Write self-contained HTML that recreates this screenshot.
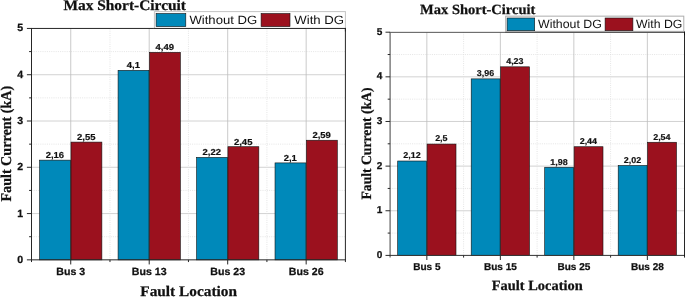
<!DOCTYPE html>
<html><head><meta charset="utf-8"><title>Max Short-Circuit</title>
<style>html,body{margin:0;padding:0;background:#fff;}svg{display:block;text-rendering:geometricPrecision;will-change:transform;}</style>
</head><body>
<svg width="685" height="297" viewBox="0 0 685 297">
<rect width="685" height="297" fill="#fff"/>
<g>
<line x1="31.5" x2="345.4" y1="213.57" y2="213.57" stroke="#cdcdcd" stroke-width="0.9"/>
<line x1="31.5" x2="345.4" y1="167.29" y2="167.29" stroke="#cdcdcd" stroke-width="0.9"/>
<line x1="31.5" x2="345.4" y1="121.01" y2="121.01" stroke="#cdcdcd" stroke-width="0.9"/>
<line x1="31.5" x2="345.4" y1="74.73" y2="74.73" stroke="#cdcdcd" stroke-width="0.9"/>
<line x1="31.5" x2="345.4" y1="236.71" y2="236.71" stroke="#dedede" stroke-width="0.8" stroke-dasharray="1 1.2"/>
<line x1="31.5" x2="345.4" y1="190.43" y2="190.43" stroke="#dedede" stroke-width="0.8" stroke-dasharray="1 1.2"/>
<line x1="31.5" x2="345.4" y1="144.15" y2="144.15" stroke="#dedede" stroke-width="0.8" stroke-dasharray="1 1.2"/>
<line x1="31.5" x2="345.4" y1="97.87" y2="97.87" stroke="#dedede" stroke-width="0.8" stroke-dasharray="1 1.2"/>
<line x1="31.5" x2="345.4" y1="51.59" y2="51.59" stroke="#dedede" stroke-width="0.8" stroke-dasharray="1 1.2"/>
<line x1="70.74" x2="70.74" y1="28.45" y2="259.85" stroke="#bdbdbd" stroke-width="0.8"/>
<line x1="149.21" x2="149.21" y1="28.45" y2="259.85" stroke="#bdbdbd" stroke-width="0.8"/>
<line x1="227.69" x2="227.69" y1="28.45" y2="259.85" stroke="#bdbdbd" stroke-width="0.8"/>
<line x1="306.16" x2="306.16" y1="28.45" y2="259.85" stroke="#bdbdbd" stroke-width="0.8"/>
<line x1="109.97" x2="109.97" y1="28.45" y2="259.85" stroke="#dedede" stroke-width="0.8" stroke-dasharray="1 1.2"/>
<line x1="188.45" x2="188.45" y1="28.45" y2="259.85" stroke="#dedede" stroke-width="0.8" stroke-dasharray="1 1.2"/>
<line x1="266.92" x2="266.92" y1="28.45" y2="259.85" stroke="#dedede" stroke-width="0.8" stroke-dasharray="1 1.2"/>
<rect x="39.60" y="160.14" width="30.89" height="99.71" fill="#0089BA" stroke="#111" stroke-width="0.6"/>
<text transform="translate(54.84,158.04) scale(1.09,1)" text-anchor="middle" font-family="Liberation Sans, sans-serif" font-weight="bold" font-size="8.7" fill="#111" stroke="#111" stroke-width="0.2">2,16</text>
<rect x="70.99" y="142.09" width="30.89" height="117.76" fill="#9B111E" stroke="#111" stroke-width="0.6"/>
<text transform="translate(86.23,139.99) scale(1.09,1)" text-anchor="middle" font-family="Liberation Sans, sans-serif" font-weight="bold" font-size="8.7" fill="#111" stroke="#111" stroke-width="0.2">2,55</text>
<rect x="118.07" y="70.35" width="30.89" height="189.50" fill="#0089BA" stroke="#111" stroke-width="0.6"/>
<text transform="translate(133.32,68.25) scale(1.09,1)" text-anchor="middle" font-family="Liberation Sans, sans-serif" font-weight="bold" font-size="8.7" fill="#111" stroke="#111" stroke-width="0.2">4,1</text>
<rect x="149.46" y="52.30" width="30.89" height="207.55" fill="#9B111E" stroke="#111" stroke-width="0.6"/>
<text transform="translate(164.71,50.20) scale(1.09,1)" text-anchor="middle" font-family="Liberation Sans, sans-serif" font-weight="bold" font-size="8.7" fill="#111" stroke="#111" stroke-width="0.2">4,49</text>
<rect x="196.55" y="157.36" width="30.89" height="102.49" fill="#0089BA" stroke="#111" stroke-width="0.6"/>
<text transform="translate(211.79,155.26) scale(1.09,1)" text-anchor="middle" font-family="Liberation Sans, sans-serif" font-weight="bold" font-size="8.7" fill="#111" stroke="#111" stroke-width="0.2">2,22</text>
<rect x="227.94" y="146.71" width="30.89" height="113.14" fill="#9B111E" stroke="#111" stroke-width="0.6"/>
<text transform="translate(243.18,144.61) scale(1.09,1)" text-anchor="middle" font-family="Liberation Sans, sans-serif" font-weight="bold" font-size="8.7" fill="#111" stroke="#111" stroke-width="0.2">2,45</text>
<rect x="275.02" y="162.91" width="30.89" height="96.94" fill="#0089BA" stroke="#111" stroke-width="0.6"/>
<text transform="translate(290.27,160.81) scale(1.09,1)" text-anchor="middle" font-family="Liberation Sans, sans-serif" font-weight="bold" font-size="8.7" fill="#111" stroke="#111" stroke-width="0.2">2,1</text>
<rect x="306.41" y="140.23" width="30.89" height="119.62" fill="#9B111E" stroke="#111" stroke-width="0.6"/>
<text transform="translate(321.66,138.13) scale(1.09,1)" text-anchor="middle" font-family="Liberation Sans, sans-serif" font-weight="bold" font-size="8.7" fill="#111" stroke="#111" stroke-width="0.2">2,59</text>
<line x1="31.0" x2="345.9" y1="28.45" y2="28.45" stroke="#262626" stroke-width="1"/>
<line x1="31.5" x2="31.5" y1="28.45" y2="262.05" stroke="#262626" stroke-width="1.0"/>
<line x1="31.0" x2="345.9" y1="259.85" y2="259.85" stroke="#262626" stroke-width="1"/>
<line x1="345.4" x2="345.4" y1="27.95" y2="262.05" stroke="#262626" stroke-width="1"/>
<line x1="26.9" x2="31.5" y1="259.85" y2="259.85" stroke="#262626" stroke-width="1"/>
<text transform="translate(23.10,262.80) scale(1.02,1)" text-anchor="end" font-family="Liberation Sans, sans-serif" font-weight="bold" font-size="10.4" fill="#111" stroke="#111" stroke-width="0.25">0</text>
<line x1="26.9" x2="31.5" y1="213.57" y2="213.57" stroke="#262626" stroke-width="1"/>
<text transform="translate(23.10,216.52) scale(1.02,1)" text-anchor="end" font-family="Liberation Sans, sans-serif" font-weight="bold" font-size="10.4" fill="#111" stroke="#111" stroke-width="0.25">1</text>
<line x1="26.9" x2="31.5" y1="167.29" y2="167.29" stroke="#262626" stroke-width="1"/>
<text transform="translate(23.10,170.24) scale(1.02,1)" text-anchor="end" font-family="Liberation Sans, sans-serif" font-weight="bold" font-size="10.4" fill="#111" stroke="#111" stroke-width="0.25">2</text>
<line x1="26.9" x2="31.5" y1="121.01" y2="121.01" stroke="#262626" stroke-width="1"/>
<text transform="translate(23.10,123.96) scale(1.02,1)" text-anchor="end" font-family="Liberation Sans, sans-serif" font-weight="bold" font-size="10.4" fill="#111" stroke="#111" stroke-width="0.25">3</text>
<line x1="26.9" x2="31.5" y1="74.73" y2="74.73" stroke="#262626" stroke-width="1"/>
<text transform="translate(23.10,77.68) scale(1.02,1)" text-anchor="end" font-family="Liberation Sans, sans-serif" font-weight="bold" font-size="10.4" fill="#111" stroke="#111" stroke-width="0.25">4</text>
<line x1="26.9" x2="31.5" y1="28.45" y2="28.45" stroke="#262626" stroke-width="1"/>
<text transform="translate(23.10,31.40) scale(1.02,1)" text-anchor="end" font-family="Liberation Sans, sans-serif" font-weight="bold" font-size="10.4" fill="#111" stroke="#111" stroke-width="0.25">5</text>
<line x1="29.1" x2="31.5" y1="236.71" y2="236.71" stroke="#262626" stroke-width="1"/>
<line x1="29.1" x2="31.5" y1="190.43" y2="190.43" stroke="#262626" stroke-width="1"/>
<line x1="29.1" x2="31.5" y1="144.15" y2="144.15" stroke="#262626" stroke-width="1"/>
<line x1="29.1" x2="31.5" y1="97.87" y2="97.87" stroke="#262626" stroke-width="1"/>
<line x1="29.1" x2="31.5" y1="51.59" y2="51.59" stroke="#262626" stroke-width="1"/>
<line x1="70.74" x2="70.74" y1="259.85" y2="264.45000000000005" stroke="#262626" stroke-width="1"/>
<text transform="translate(70.74,275.1) scale(1.02,1)" text-anchor="middle" font-family="Liberation Sans, sans-serif" font-weight="bold" font-size="10.4" fill="#111" stroke="#111" stroke-width="0.25">Bus 3</text>
<line x1="149.21" x2="149.21" y1="259.85" y2="264.45000000000005" stroke="#262626" stroke-width="1"/>
<text transform="translate(149.21,275.1) scale(1.02,1)" text-anchor="middle" font-family="Liberation Sans, sans-serif" font-weight="bold" font-size="10.4" fill="#111" stroke="#111" stroke-width="0.25">Bus 13</text>
<line x1="227.69" x2="227.69" y1="259.85" y2="264.45000000000005" stroke="#262626" stroke-width="1"/>
<text transform="translate(227.69,275.1) scale(1.02,1)" text-anchor="middle" font-family="Liberation Sans, sans-serif" font-weight="bold" font-size="10.4" fill="#111" stroke="#111" stroke-width="0.25">Bus 23</text>
<line x1="306.16" x2="306.16" y1="259.85" y2="264.45000000000005" stroke="#262626" stroke-width="1"/>
<text transform="translate(306.16,275.1) scale(1.02,1)" text-anchor="middle" font-family="Liberation Sans, sans-serif" font-weight="bold" font-size="10.4" fill="#111" stroke="#111" stroke-width="0.25">Bus 26</text>
<line x1="109.97" x2="109.97" y1="259.85" y2="262.05" stroke="#262626" stroke-width="1"/>
<line x1="188.45" x2="188.45" y1="259.85" y2="262.05" stroke="#262626" stroke-width="1"/>
<line x1="266.92" x2="266.92" y1="259.85" y2="262.05" stroke="#262626" stroke-width="1"/>
<rect x="154.4" y="11.6" width="190.99999999999997" height="16.85" fill="#fff" stroke="#c4c4c4" stroke-width="1"/>
<line x1="153.9" x2="345.9" y1="28.45" y2="28.45" stroke="#262626" stroke-width="1"/>
<line x1="345.4" x2="345.4" y1="27.95" y2="31.45" stroke="#262626" stroke-width="1"/>
<rect x="156.1" y="13.5" width="29.70" height="13.10" fill="#0089BA" stroke="#111" stroke-width="0.6"/>
<rect x="261.1" y="13.5" width="28.90" height="13.10" fill="#9B111E" stroke="#111" stroke-width="0.6"/>
<text x="189.4" y="24.3" textLength="67.8" lengthAdjust="spacingAndGlyphs" font-family="Liberation Sans, sans-serif" font-size="12" fill="#111">Without DG</text>
<text x="294.3" y="24.3" textLength="49.8" lengthAdjust="spacingAndGlyphs" font-family="Liberation Sans, sans-serif" font-size="12" fill="#111">With DG</text>
<text x="63.4" y="9.8" textLength="122.6" lengthAdjust="spacingAndGlyphs" font-family="Liberation Serif, serif" font-weight="bold" font-size="14.7" fill="#111" stroke="#111" stroke-width="0.25">Max Short-Circuit</text>
<text x="140.3" y="295.8" textLength="96.7" lengthAdjust="spacingAndGlyphs" font-family="Liberation Serif, serif" font-weight="bold" font-size="14.7" fill="#111" stroke="#111" stroke-width="0.25">Fault Location</text>
<text transform="translate(11.2,201.5) rotate(-90)" x="0" y="0" textLength="115.6" lengthAdjust="spacingAndGlyphs" font-family="Liberation Serif, serif" font-weight="bold" font-size="15" fill="#111" stroke="#111" stroke-width="0.25">Fault Current (kA)</text>
</g>
<g>
<line x1="390.1" x2="684.1" y1="210.76" y2="210.76" stroke="#cdcdcd" stroke-width="0.9"/>
<line x1="390.1" x2="684.1" y1="166.12" y2="166.12" stroke="#cdcdcd" stroke-width="0.9"/>
<line x1="390.1" x2="684.1" y1="121.48" y2="121.48" stroke="#cdcdcd" stroke-width="0.9"/>
<line x1="390.1" x2="684.1" y1="76.84" y2="76.84" stroke="#cdcdcd" stroke-width="0.9"/>
<line x1="390.1" x2="684.1" y1="233.08" y2="233.08" stroke="#dedede" stroke-width="0.8" stroke-dasharray="1 1.2"/>
<line x1="390.1" x2="684.1" y1="188.44" y2="188.44" stroke="#dedede" stroke-width="0.8" stroke-dasharray="1 1.2"/>
<line x1="390.1" x2="684.1" y1="143.80" y2="143.80" stroke="#dedede" stroke-width="0.8" stroke-dasharray="1 1.2"/>
<line x1="390.1" x2="684.1" y1="99.16" y2="99.16" stroke="#dedede" stroke-width="0.8" stroke-dasharray="1 1.2"/>
<line x1="390.1" x2="684.1" y1="54.52" y2="54.52" stroke="#dedede" stroke-width="0.8" stroke-dasharray="1 1.2"/>
<line x1="426.85" x2="426.85" y1="32.2" y2="255.4" stroke="#bdbdbd" stroke-width="0.8"/>
<line x1="500.35" x2="500.35" y1="32.2" y2="255.4" stroke="#bdbdbd" stroke-width="0.8"/>
<line x1="573.85" x2="573.85" y1="32.2" y2="255.4" stroke="#bdbdbd" stroke-width="0.8"/>
<line x1="647.35" x2="647.35" y1="32.2" y2="255.4" stroke="#bdbdbd" stroke-width="0.8"/>
<line x1="463.60" x2="463.60" y1="32.2" y2="255.4" stroke="#dedede" stroke-width="0.8" stroke-dasharray="1 1.2"/>
<line x1="537.10" x2="537.10" y1="32.2" y2="255.4" stroke="#dedede" stroke-width="0.8" stroke-dasharray="1 1.2"/>
<line x1="610.60" x2="610.60" y1="32.2" y2="255.4" stroke="#dedede" stroke-width="0.8" stroke-dasharray="1 1.2"/>
<rect x="397.70" y="161.01" width="28.90" height="94.39" fill="#0089BA" stroke="#111" stroke-width="0.6"/>
<text transform="translate(411.95,158.36) scale(1.05,1)" text-anchor="middle" font-family="Liberation Sans, sans-serif" font-weight="bold" font-size="8.5" fill="#111" stroke="#111" stroke-width="0.2">2,12</text>
<rect x="427.10" y="144.05" width="28.90" height="111.35" fill="#9B111E" stroke="#111" stroke-width="0.6"/>
<text transform="translate(441.35,141.40) scale(1.05,1)" text-anchor="middle" font-family="Liberation Sans, sans-serif" font-weight="bold" font-size="8.5" fill="#111" stroke="#111" stroke-width="0.2">2,5</text>
<rect x="471.20" y="78.88" width="28.90" height="176.52" fill="#0089BA" stroke="#111" stroke-width="0.6"/>
<text transform="translate(485.45,76.23) scale(1.05,1)" text-anchor="middle" font-family="Liberation Sans, sans-serif" font-weight="bold" font-size="8.5" fill="#111" stroke="#111" stroke-width="0.2">3,96</text>
<rect x="500.60" y="66.82" width="28.90" height="188.58" fill="#9B111E" stroke="#111" stroke-width="0.6"/>
<text transform="translate(514.85,64.17) scale(1.05,1)" text-anchor="middle" font-family="Liberation Sans, sans-serif" font-weight="bold" font-size="8.5" fill="#111" stroke="#111" stroke-width="0.2">4,23</text>
<rect x="544.70" y="167.26" width="28.90" height="88.14" fill="#0089BA" stroke="#111" stroke-width="0.6"/>
<text transform="translate(558.95,164.61) scale(1.05,1)" text-anchor="middle" font-family="Liberation Sans, sans-serif" font-weight="bold" font-size="8.5" fill="#111" stroke="#111" stroke-width="0.2">1,98</text>
<rect x="574.10" y="146.73" width="28.90" height="108.67" fill="#9B111E" stroke="#111" stroke-width="0.6"/>
<text transform="translate(588.35,144.08) scale(1.05,1)" text-anchor="middle" font-family="Liberation Sans, sans-serif" font-weight="bold" font-size="8.5" fill="#111" stroke="#111" stroke-width="0.2">2,44</text>
<rect x="618.20" y="165.48" width="28.90" height="89.92" fill="#0089BA" stroke="#111" stroke-width="0.6"/>
<text transform="translate(632.45,162.83) scale(1.05,1)" text-anchor="middle" font-family="Liberation Sans, sans-serif" font-weight="bold" font-size="8.5" fill="#111" stroke="#111" stroke-width="0.2">2,02</text>
<rect x="647.60" y="142.26" width="28.90" height="113.14" fill="#9B111E" stroke="#111" stroke-width="0.6"/>
<text transform="translate(661.85,139.61) scale(1.05,1)" text-anchor="middle" font-family="Liberation Sans, sans-serif" font-weight="bold" font-size="8.5" fill="#111" stroke="#111" stroke-width="0.2">2,54</text>
<line x1="389.6" x2="685.1" y1="32.35" y2="32.35" stroke="#555" stroke-width="1"/>
<line x1="390.1" x2="390.1" y1="32.2" y2="257.6" stroke="#666" stroke-width="1.25"/>
<line x1="389.6" x2="685.1" y1="255.4" y2="255.4" stroke="#333" stroke-width="1"/>
<line x1="684.6" x2="684.6" y1="31.700000000000003" y2="257.6" stroke="#111" stroke-width="1"/>
<line x1="385.5" x2="390.1" y1="255.40" y2="255.40" stroke="#2a2a2a" stroke-width="1"/>
<text transform="translate(382.30,257.85) scale(1.01,1)" text-anchor="end" font-family="Liberation Sans, sans-serif" font-weight="bold" font-size="9.95" fill="#111" stroke="#111" stroke-width="0.25">0</text>
<line x1="385.5" x2="390.1" y1="210.76" y2="210.76" stroke="#2a2a2a" stroke-width="1"/>
<text transform="translate(382.30,213.21) scale(1.01,1)" text-anchor="end" font-family="Liberation Sans, sans-serif" font-weight="bold" font-size="9.95" fill="#111" stroke="#111" stroke-width="0.25">1</text>
<line x1="385.5" x2="390.1" y1="166.12" y2="166.12" stroke="#2a2a2a" stroke-width="1"/>
<text transform="translate(382.30,168.57) scale(1.01,1)" text-anchor="end" font-family="Liberation Sans, sans-serif" font-weight="bold" font-size="9.95" fill="#111" stroke="#111" stroke-width="0.25">2</text>
<line x1="385.5" x2="390.1" y1="121.48" y2="121.48" stroke="#2a2a2a" stroke-width="1"/>
<text transform="translate(382.30,123.93) scale(1.01,1)" text-anchor="end" font-family="Liberation Sans, sans-serif" font-weight="bold" font-size="9.95" fill="#111" stroke="#111" stroke-width="0.25">3</text>
<line x1="385.5" x2="390.1" y1="76.84" y2="76.84" stroke="#2a2a2a" stroke-width="1"/>
<text transform="translate(382.30,79.29) scale(1.01,1)" text-anchor="end" font-family="Liberation Sans, sans-serif" font-weight="bold" font-size="9.95" fill="#111" stroke="#111" stroke-width="0.25">4</text>
<line x1="385.5" x2="390.1" y1="32.20" y2="32.20" stroke="#2a2a2a" stroke-width="1"/>
<text transform="translate(382.30,34.65) scale(1.01,1)" text-anchor="end" font-family="Liberation Sans, sans-serif" font-weight="bold" font-size="9.95" fill="#111" stroke="#111" stroke-width="0.25">5</text>
<line x1="387.70000000000005" x2="390.1" y1="233.08" y2="233.08" stroke="#2a2a2a" stroke-width="1"/>
<line x1="387.70000000000005" x2="390.1" y1="188.44" y2="188.44" stroke="#2a2a2a" stroke-width="1"/>
<line x1="387.70000000000005" x2="390.1" y1="143.80" y2="143.80" stroke="#2a2a2a" stroke-width="1"/>
<line x1="387.70000000000005" x2="390.1" y1="99.16" y2="99.16" stroke="#2a2a2a" stroke-width="1"/>
<line x1="387.70000000000005" x2="390.1" y1="54.52" y2="54.52" stroke="#2a2a2a" stroke-width="1"/>
<line x1="426.85" x2="426.85" y1="255.4" y2="260.0" stroke="#2a2a2a" stroke-width="1"/>
<text transform="translate(426.85,269.95) scale(1.01,1)" text-anchor="middle" font-family="Liberation Sans, sans-serif" font-weight="bold" font-size="9.95" fill="#111" stroke="#111" stroke-width="0.25">Bus 5</text>
<line x1="500.35" x2="500.35" y1="255.4" y2="260.0" stroke="#2a2a2a" stroke-width="1"/>
<text transform="translate(500.35,269.95) scale(1.01,1)" text-anchor="middle" font-family="Liberation Sans, sans-serif" font-weight="bold" font-size="9.95" fill="#111" stroke="#111" stroke-width="0.25">Bus 15</text>
<line x1="573.85" x2="573.85" y1="255.4" y2="260.0" stroke="#2a2a2a" stroke-width="1"/>
<text transform="translate(573.85,269.95) scale(1.01,1)" text-anchor="middle" font-family="Liberation Sans, sans-serif" font-weight="bold" font-size="9.95" fill="#111" stroke="#111" stroke-width="0.25">Bus 25</text>
<line x1="647.35" x2="647.35" y1="255.4" y2="260.0" stroke="#2a2a2a" stroke-width="1"/>
<text transform="translate(647.35,269.95) scale(1.01,1)" text-anchor="middle" font-family="Liberation Sans, sans-serif" font-weight="bold" font-size="9.95" fill="#111" stroke="#111" stroke-width="0.25">Bus 28</text>
<line x1="463.60" x2="463.60" y1="255.4" y2="257.6" stroke="#2a2a2a" stroke-width="1"/>
<line x1="537.10" x2="537.10" y1="255.4" y2="257.6" stroke="#2a2a2a" stroke-width="1"/>
<line x1="610.60" x2="610.60" y1="255.4" y2="257.6" stroke="#2a2a2a" stroke-width="1"/>
<rect x="505.7" y="16.15" width="178.09999999999997" height="15.20" fill="#fff" stroke="#adadad" stroke-width="1"/>
<line x1="505.2" x2="685.1" y1="32.35" y2="32.35" stroke="#555" stroke-width="1"/>
<line x1="684.6" x2="684.6" y1="31.700000000000003" y2="35.2" stroke="#111" stroke-width="1"/>
<rect x="507.1" y="18.0" width="27.60" height="12.70" fill="#0089BA" stroke="#111" stroke-width="0.6"/>
<rect x="605.1" y="18.0" width="27.80" height="12.70" fill="#9B111E" stroke="#111" stroke-width="0.6"/>
<text x="538.0" y="27.8" textLength="63.8" lengthAdjust="spacingAndGlyphs" font-family="Liberation Sans, sans-serif" font-size="12.0" fill="#111">Without DG</text>
<text x="636.0" y="27.8" textLength="46.4" lengthAdjust="spacingAndGlyphs" font-family="Liberation Sans, sans-serif" font-size="12.0" fill="#111">With DG</text>
<text x="420.1" y="14.3" textLength="115.3" lengthAdjust="spacingAndGlyphs" font-family="Liberation Serif, serif" font-weight="bold" font-size="14.0" fill="#111" stroke="#111" stroke-width="0.25">Max Short-Circuit</text>
<text x="491.8" y="290.4" textLength="90.9" lengthAdjust="spacingAndGlyphs" font-family="Liberation Serif, serif" font-weight="bold" font-size="14.0" fill="#111" stroke="#111" stroke-width="0.25">Fault Location</text>
<text transform="translate(370.9,199.5) rotate(-90)" x="0" y="0" textLength="112.0" lengthAdjust="spacingAndGlyphs" font-family="Liberation Serif, serif" font-weight="bold" font-size="14.2" fill="#111" stroke="#111" stroke-width="0.25">Fault Current (kA)</text>
</g>
</svg>
</body></html>
